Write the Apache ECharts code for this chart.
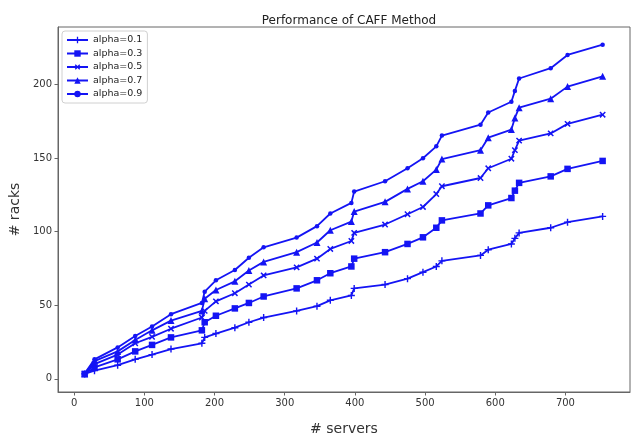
<!DOCTYPE html>
<html>
<head>
<meta charset="utf-8">
<script src="https://cdn.jsdelivr.net/npm/echarts@6/dist/echarts.min.js"></script>
<style>html,body{margin:0;padding:0;background:#fff}#c{width:631px;height:441px}</style>
</head>
<body>
<div id="c"></div>
<script>
const servers = [15, 29, 62, 87, 111, 138, 182, 186, 202, 229, 249, 270, 317, 346, 365, 395, 399, 443, 475, 497, 516, 524, 579, 590, 623, 628, 634, 679, 703, 753];
const alpha01 = [3.3, 5.5, 9.2, 13.2, 16.4, 20.2, 24.1, 28.1, 30.7, 34.7, 38.4, 41.6, 46.1, 49.3, 53.3, 56.6, 61.4, 64, 68, 72.4, 76.3, 80.1, 83.8, 87.7, 91.6, 95.4, 99.1, 102.6, 106.4, 110.3];
const alpha03 = [3.3, 7.7, 13.2, 18.6, 23, 28.1, 32.9, 38.4, 42.8, 47.8, 51.5, 55.9, 61.4, 66.9, 71.7, 76.3, 81.6, 86, 91.6, 96.1, 102.6, 107.6, 112.3, 117.8, 122.8, 127.8, 133.1, 137.5, 142.6, 148];
const alpha05 = [3.3, 9.9, 16.4, 24.1, 28.5, 34, 41.6, 46.1, 52.6, 58.1, 64, 70.2, 75.7, 81.6, 88.2, 93.6, 99.1, 104.8, 111.8, 116.7, 125.5, 130.8, 136.4, 143, 149.5, 155.3, 161.8, 166.7, 173.2, 179.4];
const alpha07 = [3.3, 12, 18.6, 26.3, 32.9, 39.5, 46.1, 54.4, 60.3, 66.2, 73.5, 79.4, 86, 92.6, 100.9, 106.8, 113.6, 120.2, 129, 134.2, 142.1, 149.3, 155.3, 163.8, 169.3, 177.2, 184.2, 190.3, 198.5, 205.5];
const alpha09 = [3.5, 13.2, 21.3, 29, 35.5, 43.9, 51.5, 59.2, 66.9, 73.9, 82.2, 89.3, 95.9, 103.7, 112.3, 119.5, 127.2, 134.2, 143, 149.8, 157.9, 165.2, 172.6, 180.9, 188.2, 195.6, 204, 211, 220, 227];
const seriesNames = ['alpha=0.1', 'alpha=0.3', 'alpha=0.5', 'alpha=0.7', 'alpha=0.9'];
const xTicks = [0, 100, 200, 300, 400, 500, 600, 700];
const yTicks = [0, 50, 100, 150, 200];

const values = [alpha01, alpha03, alpha05, alpha07, alpha09];
const PLUS = 'path://M4,0H6V4H10V6H6V10H4V6H0V4H4Z';
const symbols = [PLUS, 'rect', PLUS, 'triangle', 'circle'];
const rotates = [0, 0, 45, 0, 0];
const sizes = [7, 6.5, 7.5, 7, 4.5];
const blue = '#1414f4';

const chart = echarts.init(document.getElementById('c'), null, {renderer: 'canvas'});
const font = 'DejaVu Sans';
chart.setOption({
  animation: false,
  backgroundColor: '#fff',
  title: {
    text: 'Performance of CAFF Method',
    left: 344, top: 10, textAlign: 'center',
    textStyle: {fontFamily: font, fontSize: 12, fontWeight: 'normal', color: '#222'}
  },
  grid: {left: 58, right: 1, top: 27, bottom: 37, show: true, borderColor: '#666', borderWidth: 1, containLabel: false},
  legend: {
    orient: 'vertical', left: 62, top: 31,
    data: seriesNames,
    itemWidth: 21, itemHeight: 8, itemGap: 3.5,
    padding: [4, 5, 4, 4],
    borderColor: '#d0d0d0', borderWidth: 1, borderRadius: 3,
    backgroundColor: 'rgba(255,255,255,0.9)',
    textStyle: {fontFamily: font, fontSize: 9.5, lineHeight: 10, color: '#222'}
  },
  xAxis: {
    type: 'value', min: -23, max: 792,
    name: '# servers', nameLocation: 'middle', nameGap: 30,
    nameTextStyle: {fontFamily: font, fontSize: 14, color: '#333'},
    splitLine: {show: false},
    axisLine: {show: true, onZero: false, lineStyle: {color: '#666'}},
    axisTick: {show: true, length: 3.5, lineStyle: {color: '#666'}, customValues: xTicks},
    axisLabel: {fontFamily: font, fontSize: 10, color: '#333', margin: 6, customValues: xTicks}
  },
  yAxis: {
    type: 'value', min: -9, max: 239,
    name: '# racks', nameLocation: 'middle', nameGap: 33, nameRotate: 90,
    nameTextStyle: {fontFamily: font, fontSize: 14, color: '#333'},
    splitLine: {show: false},
    axisLine: {show: true, onZero: false, lineStyle: {color: '#666'}},
    axisTick: {show: true, length: 3.5, lineStyle: {color: '#666'}, customValues: yTicks},
    axisLabel: {fontFamily: font, fontSize: 10, color: '#333', margin: 6, customValues: yTicks}
  },
  series: values.map((v, i) => ({
    name: seriesNames[i],
    type: 'line',
    data: servers.map((x, j) => [x, v[j]]),
    symbol: symbols[i],
    symbolSize: sizes[i],
    symbolRotate: rotates[i],
    showAllSymbol: true,
    lineStyle: {color: blue, width: 1.8},
    itemStyle: {color: blue, borderWidth: 0},
    emphasis: {disabled: true},
    z: 2 + i
  }))
});
</script>
</body>
</html>
